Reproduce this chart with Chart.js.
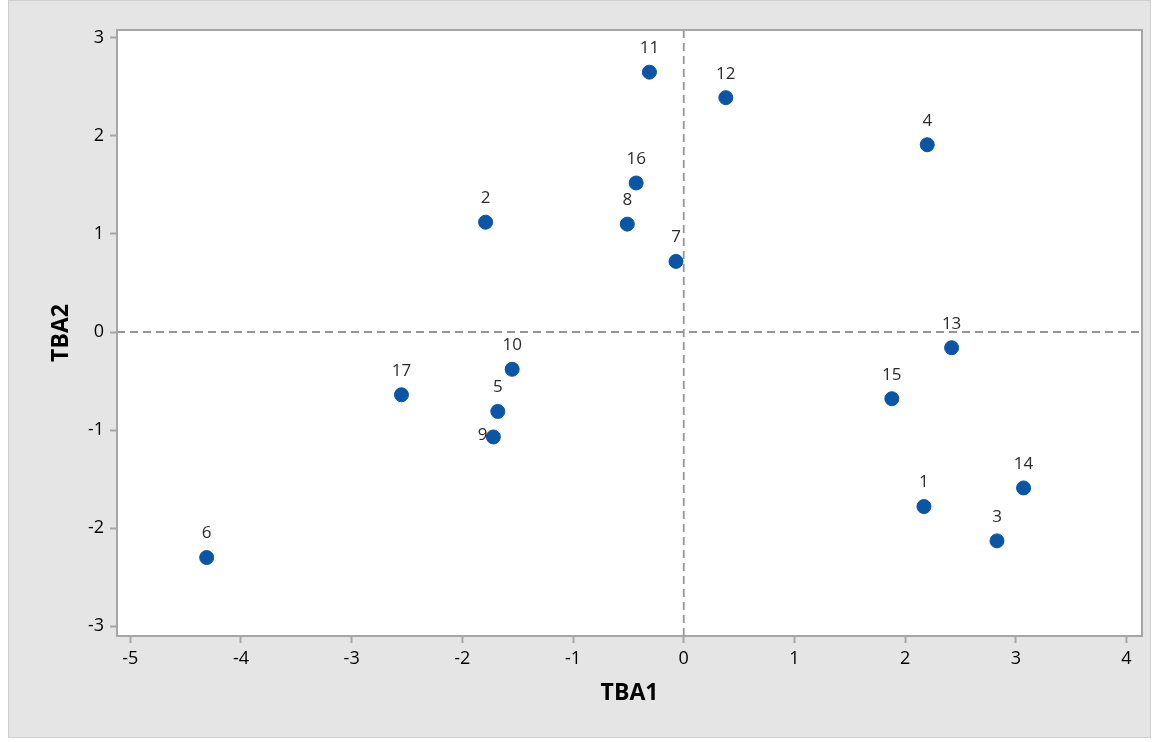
<!DOCTYPE html>
<html lang="en">
<head>
    <meta charset="UTF-8">
    <title>TBA1 vs TBA2</title>
    <script src="https://cdn.jsdelivr.net/npm/chart.js"></script>
    <style>
        html, body {
            margin: 0;
            padding: 0;
            background: #ffffff;
        }
        #frame {
            position: absolute;
            left: 8px;
            top: 0px;
            width: 1143px;
            height: 738px;
            background: #e5e5e5;
            border: 1px solid #cfcfcf;
            box-sizing: border-box;
        }
        #chartContainer {
            position: absolute;
            left: 0;
            top: 0;
            width: 1159px;
            height: 742px;
        }
    </style>
</head>
<body>
<div id="frame"></div>
<div id="chartContainer">
    <canvas id="scoreChart"></canvas>
</div>
<script>
    // Sample numbers and their scores
    const sampleIds = ['1','2','3','4','5','6','7','8','9','10','11','12','13','14','15','16','17'];
    const tba1 = [2.17, -1.79, 2.83, 2.20, -1.68, -4.31, -0.07, -0.51, -1.72, -1.55, -0.31, 0.38, 2.42, 3.07, 1.88, -0.43, -2.55];
    const tba2 = [-1.78, 1.12, -2.13, 1.91, -0.81, -2.30, 0.72, 1.10, -1.07, -0.38, 2.65, 2.39, -0.16, -1.59, -0.68, 1.52, -0.64];
    const xTicks = [-5, -4, -3, -2, -1, 0, 1, 2, 3, 4];
    const yTicks = [-3, -2, -1, 0, 1, 2, 3];
    const leftLabels = ['9']; // these labels sit left of the point instead of above

    const points = tba1.map((x, i) => ({ x: x, y: tba2[i] }));

    // frame, zero lines and point labels
    const decorations = {
        id: 'decorations',
        beforeDatasetsDraw(chart) {
            const { ctx, chartArea: a, scales } = chart;
            ctx.save();
            ctx.fillStyle = '#ffffff';
            ctx.fillRect(a.left, a.top, a.right - a.left, a.bottom - a.top);
            ctx.strokeStyle = '#969696';
            ctx.lineWidth = 1.8;
            ctx.setLineDash([8, 5]);
            const x0 = scales.x.getPixelForValue(0);
            const y0 = scales.y.getPixelForValue(0);
            ctx.beginPath();
            ctx.moveTo(x0, a.top);
            ctx.lineTo(x0, a.bottom);
            ctx.moveTo(a.left, y0);
            ctx.lineTo(a.right, y0);
            ctx.stroke();
            ctx.setLineDash([]);
            ctx.strokeStyle = '#a6a6a6';
            ctx.lineWidth = 2;
            ctx.strokeRect(a.left, a.top, a.right - a.left, a.bottom - a.top);
            ctx.restore();
        },
        afterDatasetsDraw(chart) {
            const { ctx } = chart;
            const meta = chart.getDatasetMeta(0);
            ctx.save();
            ctx.font = '17px "Open Sans", sans-serif';
            ctx.fillStyle = '#2b2b2b';
            meta.data.forEach((pt, i) => {
                const id = sampleIds[i];
                ctx.textBaseline = 'middle';
                if (leftLabels.includes(id)) {
                    ctx.textAlign = 'right';
                    ctx.fillText(id, pt.x - 6, pt.y - 2);
                } else {
                    ctx.textAlign = 'center';
                    ctx.fillText(id, pt.x, pt.y - 24);
                }
            });
            ctx.restore();
        }
    };

    const ctx = document.getElementById('scoreChart').getContext('2d');
    const scoreChart = new Chart(ctx, {
        type: 'scatter',
        data: {
            datasets: [{
                label: 'Samples',
                data: points,
                backgroundColor: '#0a55a5',
                borderColor: '#0a55a5',
                pointRadius: 7,
                pointHoverRadius: 7
            }]
        },
        plugins: [decorations],
        options: {
            responsive: true,
            maintainAspectRatio: false,
            animation: false,
            events: [],
            layout: {
                padding: { left: 0, top: 30, right: 17, bottom: 0 }
            },
            plugins: {
                legend: { display: false },
                tooltip: { enabled: false }
            },
            scales: {
                x: {
                    type: 'linear',
                    min: -5.12,
                    max: 4.14,
                    afterFit(scale) { scale.height = 106; },
                    afterBuildTicks(scale) { scale.ticks = xTicks.map(v => ({ value: v })); },
                    border: { display: false },
                    grid: {
                        drawOnChartArea: false,
                        drawTicks: true,
                        tickLength: 7,
                        tickColor: '#a6a6a6',
                        tickWidth: 2
                    },
                    ticks: {
                        color: '#000000',
                        padding: 5,
                        font: { family: '"Open Sans", sans-serif', size: 18 }
                    },
                    title: {
                        display: true,
                        text: 'TBA1',
                        color: '#000000',
                        font: { family: '"Open Sans", sans-serif', size: 23, weight: 'bold' },
                        padding: { top: 0, bottom: 35 }
                    }
                },
                y: {
                    type: 'linear',
                    min: -3.10,
                    max: 3.08,
                    afterFit(scale) { scale.width = 117; },
                    afterBuildTicks(scale) { scale.ticks = yTicks.map(v => ({ value: v })); },
                    border: { display: false },
                    grid: {
                        drawOnChartArea: false,
                        drawTicks: true,
                        tickLength: 7,
                        tickColor: '#a6a6a6',
                        tickWidth: 2
                    },
                    ticks: {
                        color: '#000000',
                        padding: 6,
                        font: { family: '"Open Sans", sans-serif', size: 18 }
                    },
                    title: {
                        display: true,
                        text: 'TBA2',
                        color: '#000000',
                        font: { family: '"Open Sans", sans-serif', size: 23, weight: 'bold' },
                        padding: { top: 48, bottom: 0 }
                    }
                }
            }
        }
    });
</script>
</body>
</html>
